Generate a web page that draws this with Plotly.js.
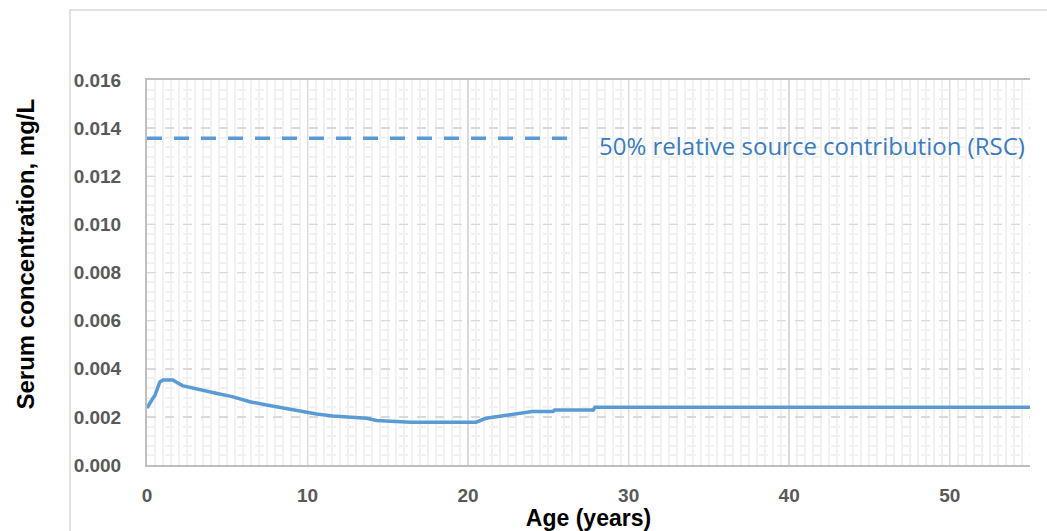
<!DOCTYPE html>
<html>
<head>
<meta charset="utf-8">
<script src="https://cdn.plot.ly/plotly-3.0.1.min.js"></script>
<style>html,body{margin:0;padding:0;background:#fff;}#chart{width:1047px;height:531px;}</style>
</head>
<body>
<div id="chart"></div>
<script>
// Data
const ageYears = [0, 0.1, 0.3, 0.5, 0.8, 1.0, 1.6, 2.2, 3.3, 4.3, 5.3, 6.4, 7.45, 8.46, 9.52, 10.56, 11.57, 12.63, 13.67, 14.3, 16.4, 20.5, 21.1, 22.2, 23.2, 24.0, 25.3, 25.4, 27.8, 27.9, 55];
const serumConc = [0.00237, 0.0025, 0.0027, 0.0029, 0.00345, 0.00353, 0.00353, 0.0033, 0.00312, 0.00298, 0.00284, 0.00263, 0.00249, 0.00236, 0.00222, 0.00212, 0.00204, 0.00198, 0.00194, 0.00185, 0.00178, 0.00178, 0.00194, 0.00205, 0.00215, 0.00222, 0.00222, 0.00229, 0.00229, 0.0024, 0.0024];
const rscAge = [0, 26.3];
const rscConc = [0.01358, 0.01358];
const rscLabel = "50% relative source contribution (RSC)";
const rscLabelPos = [28.0, 0.01326];
const xTickVals = [0, 10, 20, 30, 40, 50];
const yTickVals = [0, 0.002, 0.004, 0.006, 0.008, 0.010, 0.012, 0.014, 0.016];

const blue = "#5b9bd5";
const traces = [
  {x: ageYears, y: serumConc, type: "scatter", mode: "lines",
   line: {color: blue, width: 3.5}, hoverinfo: "skip"},
  {x: rscAge, y: rscConc, type: "scatter", mode: "lines",
   line: {color: blue, width: 3.5, dash: "15px,12px"}, hoverinfo: "skip"}
];

const tickFont = {family: "Liberation Sans, Arial, sans-serif", size: 19, color: "#595959", weight: "bold"};

const layout = {
  width: 1047, height: 531,
  margin: {l: 147, r: 17, t: 80, b: 66},
  paper_bgcolor: "#ffffff", plot_bgcolor: "#ffffff",
  showlegend: false,
  font: {family: "Liberation Sans, Arial, sans-serif"},
  xaxis: {
    range: [0, 55], tickvals: xTickVals, ticktext: xTickVals.map(String),
    showgrid: true, gridcolor: "#d9d9d9", gridwidth: 1.5,
    minor: {dtick: 0.5, showgrid: true, gridcolor: "#f1f1f1", gridwidth: 2},
    showline: true, linecolor: "#bfbfbf", linewidth: 2, mirror: true,
    zeroline: false,
    ticks: "outside", ticklen: 12, tickcolor: "rgba(0,0,0,0)",
    tickfont: tickFont,
    title: {text: "Age (years)", font: {family: "Liberation Sans, Arial, sans-serif", size: 23, color: "#000000", weight: "bold"}, standoff: 0}
  },
  yaxis: {
    range: [0, 0.016], tickvals: yTickVals, tickformat: ".3f",
    showgrid: true, gridcolor: "#d9d9d9", gridwidth: 1.5, griddash: "dash",
    minor: {dtick: 0.0004, showgrid: true, gridcolor: "#f1f1f1", gridwidth: 2},
    showline: true, linecolor: "#bfbfbf", linewidth: 2,
    zeroline: false,
    ticks: "outside", ticklen: 20, tickcolor: "rgba(0,0,0,0)",
    tickfont: tickFont
  },
  annotations: [
    {x: rscLabelPos[0], y: rscLabelPos[1], xref: "x", yref: "y", text: rscLabel,
     showarrow: false, xanchor: "left", yanchor: "middle",
     font: {family: "Open Sans, sans-serif", size: 24, color: "#3a7cc0"}},
    {x: -0.138, y: 0.547, xref: "paper", yref: "paper", text: "Serum concentration, mg/L",
     showarrow: false, textangle: -90, xanchor: "center", yanchor: "middle",
     font: {family: "Liberation Sans, Arial, sans-serif", size: 24, color: "#000000", weight: "bold"}}
  ],
  shapes: [
    {type: "rect", xref: "paper", yref: "paper", x0: -0.0872, x1: 1.2, y0: -0.5, y1: 1.1818,
     line: {color: "#d9d9d9", width: 1.5}, fillcolor: "rgba(0,0,0,0)", layer: "below"}
  ]
};

Plotly.newPlot("chart", traces, layout, {staticPlot: true, displayModeBar: false});
</script>
</body>
</html>
